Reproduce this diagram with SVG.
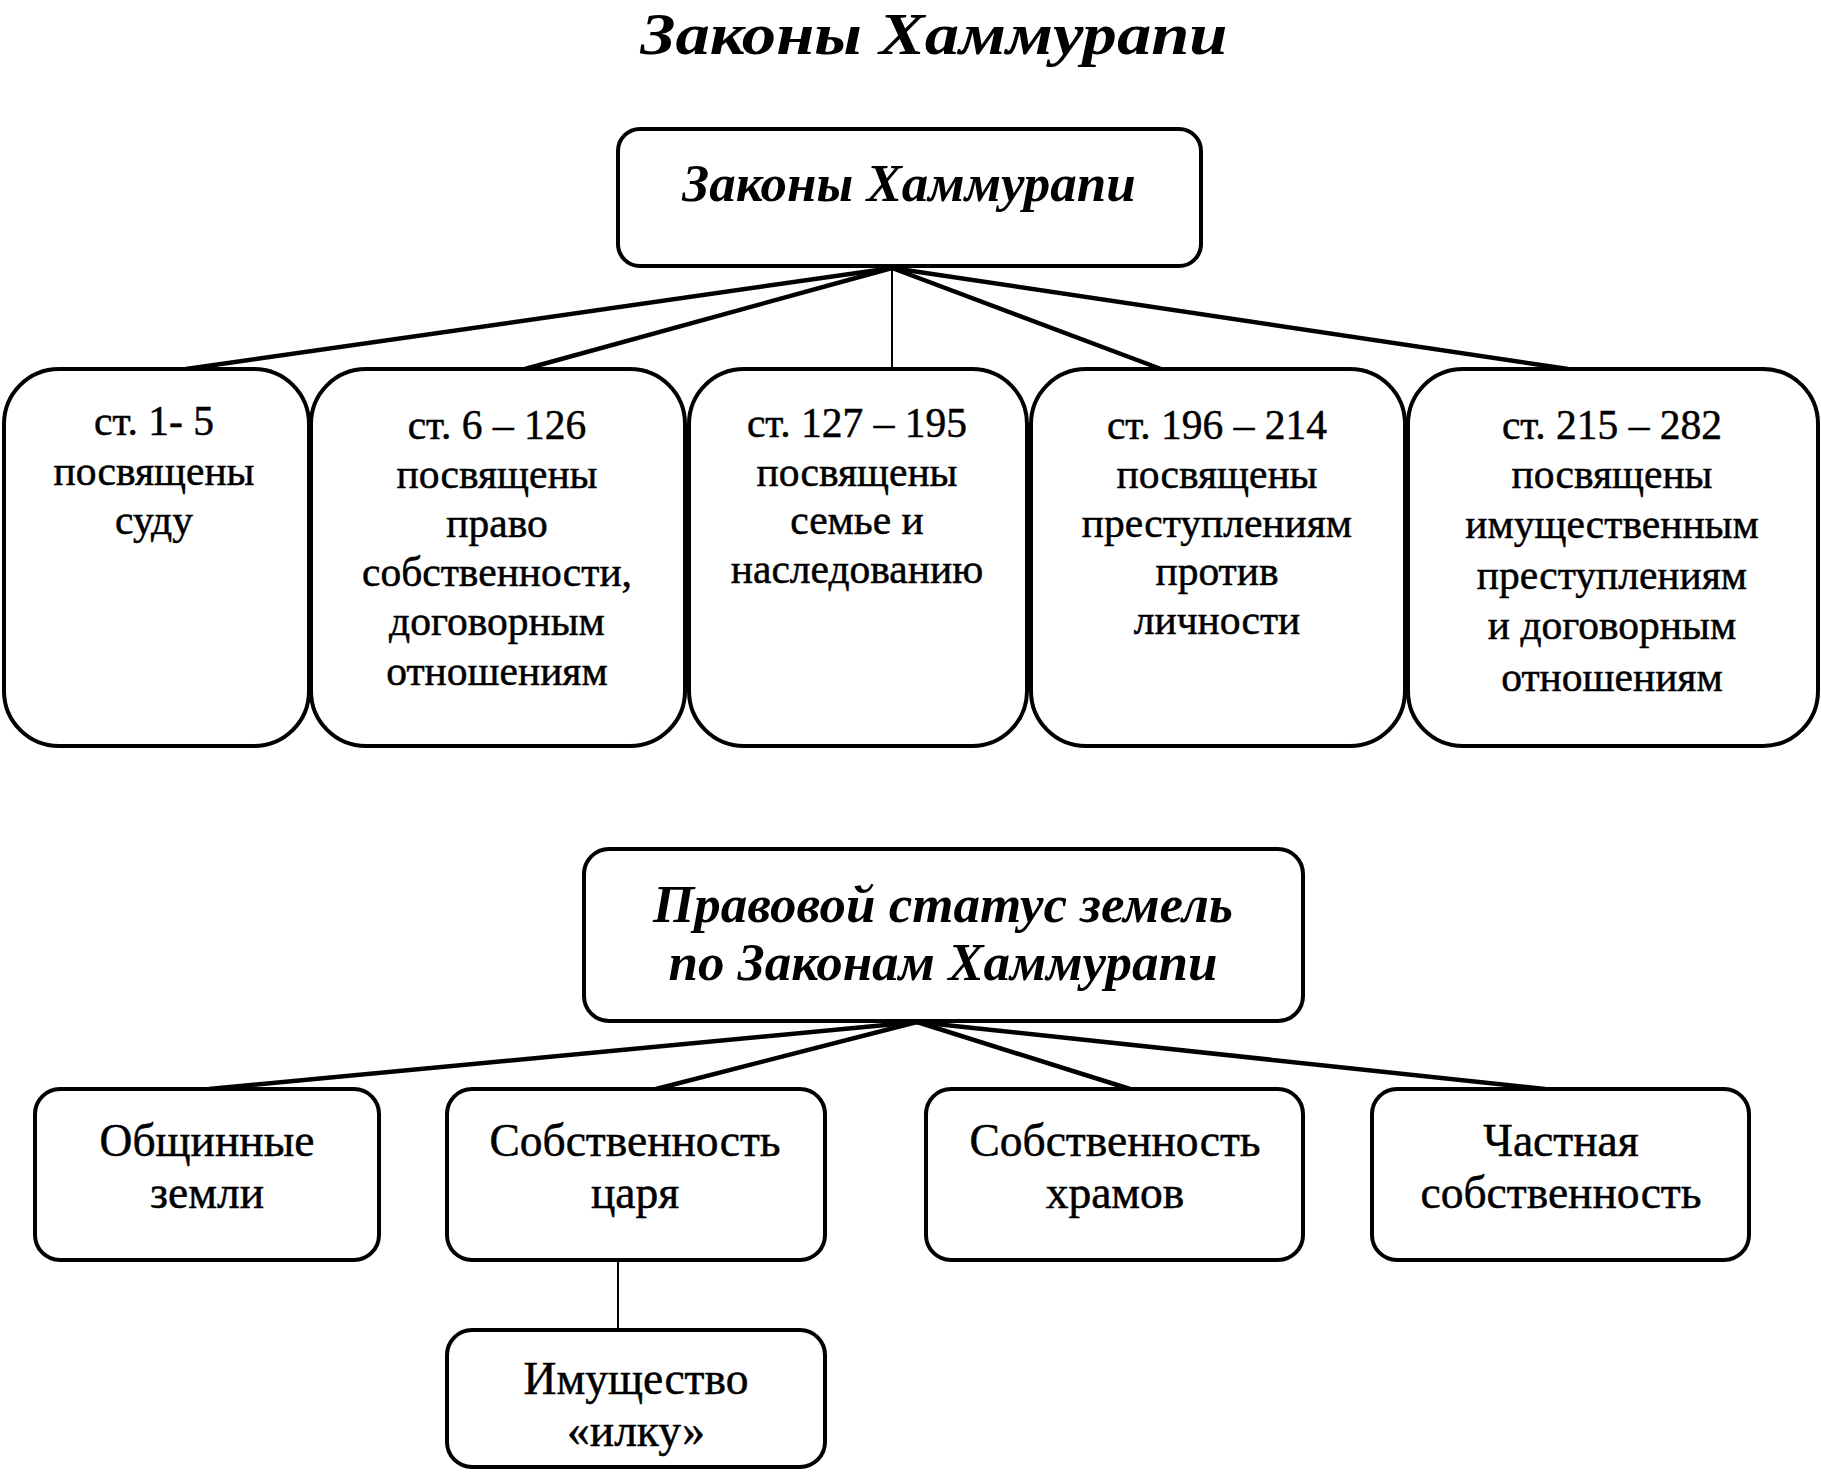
<svg xmlns="http://www.w3.org/2000/svg" width="1821" height="1473" viewBox="0 0 1821 1473">
<style>
.bx{fill:#fff;stroke:#000;stroke-width:4}
.t{font-family:"Liberation Serif","Times New Roman",serif;font-size:41.5px;text-anchor:middle;fill:#000;stroke:#000;stroke-width:0.5}
.b{font-family:"Liberation Serif","Times New Roman",serif;font-size:45.5px;text-anchor:middle;fill:#000;stroke:#000;stroke-width:0.5}
.h{font-family:"Liberation Serif","Times New Roman",serif;font-weight:bold;font-style:italic;text-anchor:middle;fill:#000}
.c{stroke:#000;stroke-width:4.5;fill:none}
.v{stroke:#000;stroke-width:2;fill:none}
</style>
<rect width="1821" height="1473" fill="#fff"/>
<text class="h" x="934" y="54" font-size="60" textLength="587" lengthAdjust="spacingAndGlyphs">Законы Хаммурапи</text>

<g id="connectors">
<line class="c" x1="892" y1="268" x2="186" y2="369"/>
<line class="c" x1="892" y1="268" x2="525" y2="369"/>
<line class="v" x1="892" y1="268" x2="892" y2="369"/>
<line class="c" x1="892" y1="268" x2="1161" y2="369"/>
<line class="c" x1="892" y1="268" x2="1568" y2="369"/>
<line class="c" x1="917" y1="1022" x2="209" y2="1089"/>
<line class="c" x1="917" y1="1022" x2="656" y2="1089"/>
<line class="c" x1="917" y1="1022" x2="1130" y2="1089"/>
<line class="c" x1="917" y1="1022" x2="1545" y2="1089"/>
<line class="v" x1="618" y1="1260" x2="618" y2="1330"/>
</g>

<g id="root">
<rect class="bx" x="618" y="129" width="583" height="137" rx="22"/>
<text class="h" x="909" y="201" font-size="53">Законы Хаммурапи</text>
</g>

<g id="n1">
<rect class="bx" x="4" y="369" width="305" height="377" rx="55"/>
<text class="t"><tspan x="154" y="435">ст. 1- 5</tspan><tspan x="154" y="485">посвящены</tspan><tspan x="154" y="534">суду</tspan></text>
</g>
<g id="n2">
<rect class="bx" x="311" y="369" width="374" height="377" rx="55"/>
<text class="t"><tspan x="497" y="439">ст. 6 – 126</tspan><tspan x="497" y="488">посвящены</tspan><tspan x="497" y="537">право</tspan><tspan x="497" y="586">собственности,</tspan><tspan x="497" y="635">договорным</tspan><tspan x="497" y="685">отношениям</tspan></text>
</g>
<g id="n3">
<rect class="bx" x="689" y="369" width="338" height="377" rx="55"/>
<text class="t"><tspan x="857" y="437">ст. 127 – 195</tspan><tspan x="857" y="486">посвящены</tspan><tspan x="857" y="534">семье и</tspan><tspan x="857" y="583">наследованию</tspan></text>
</g>
<g id="n4">
<rect class="bx" x="1031" y="369" width="374" height="377" rx="55"/>
<text class="t"><tspan x="1217" y="439">ст. 196 – 214</tspan><tspan x="1217" y="488">посвящены</tspan><tspan x="1217" y="537">преступлениям</tspan><tspan x="1217" y="585">против</tspan><tspan x="1217" y="634">личности</tspan></text>
</g>
<g id="n5">
<rect class="bx" x="1408" y="369" width="410" height="377" rx="55"/>
<text class="t"><tspan x="1612" y="439">ст. 215 – 282</tspan><tspan x="1612" y="488">посвящены</tspan><tspan x="1612" y="538">имущественным</tspan><tspan x="1612" y="589">преступлениям</tspan><tspan x="1612" y="639">и договорным</tspan><tspan x="1612" y="691">отношениям</tspan></text>
</g>

<g id="root2">
<rect class="bx" x="584" y="849" width="719" height="172" rx="25"/>
<text class="h" font-size="53"><tspan x="943" y="922">Правовой статус земель</tspan><tspan x="943" y="980">по Законам Хаммурапи</tspan></text>
</g>

<g id="m1">
<rect class="bx" x="35" y="1089" width="344" height="171" rx="25"/>
<text class="b"><tspan x="207" y="1156">Общинные</tspan><tspan x="207" y="1208">земли</tspan></text>
</g>
<g id="m2">
<rect class="bx" x="447" y="1089" width="378" height="171" rx="25"/>
<text class="b"><tspan x="635" y="1156">Собственность</tspan><tspan x="635" y="1208">царя</tspan></text>
</g>
<g id="m3">
<rect class="bx" x="926" y="1089" width="377" height="171" rx="25"/>
<text class="b"><tspan x="1115" y="1156">Собственность</tspan><tspan x="1115" y="1208">храмов</tspan></text>
</g>
<g id="m4">
<rect class="bx" x="1372" y="1089" width="377" height="171" rx="25"/>
<text class="b"><tspan x="1561" y="1156">Частная</tspan><tspan x="1561" y="1208">собственность</tspan></text>
</g>
<g id="m5">
<rect class="bx" x="447" y="1330" width="378" height="137" rx="25"/>
<text class="b"><tspan x="636" y="1394">Имущество</tspan><tspan x="636" y="1446">«илку»</tspan></text>
</g>
</svg>
